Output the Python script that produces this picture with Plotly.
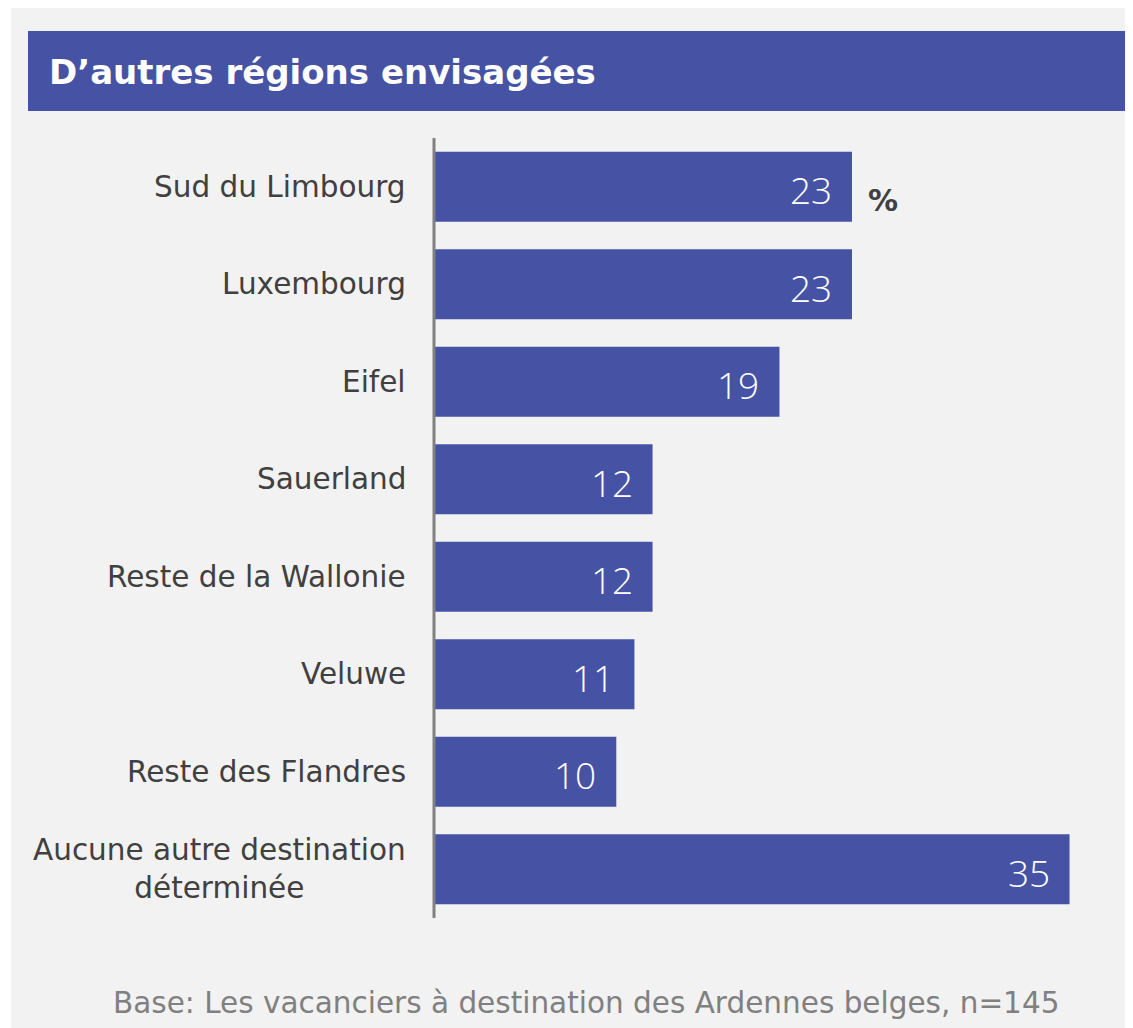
import plotly.graph_objects as go

categories = ["Sud du Limbourg", "Luxembourg", "Eifel", "Sauerland",
              "Reste de la Wallonie", "Veluwe", "Reste des Flandres",
              "Aucune autre destination<br>déterminée"]
values = [23, 23, 19, 12, 12, 11, 10, 35]
title_text = "D’autres régions envisagées"
unit_text = "%"
base_text = "Base: Les vacanciers à destination des Ardennes belges, n=145"

O = 8  # page body margin
W, H = 1125, 1020
L, R, T, B = 435 - O, 1110 - O, 138 - O, 918 - O
BAR = "#4653a5"
BG = "#f2f2f2"


def px(x):
    """page x pixel -> paper coordinate"""
    return (x - O - L) / (R - L)


def py(y):
    """page y pixel -> paper coordinate"""
    return (B - (y - O)) / (B - T)


fig = go.Figure()
fig.add_trace(go.Bar(
    x=values, y=categories, orientation="h",
    marker=dict(color=BAR, line=dict(width=0)),
    hoverinfo="skip",
))

ann = []
for c, v in zip(categories, values):
    ann.append(dict(x=v, y=c, xref="x", yref="y", text=str(v), showarrow=False,
                    xanchor="right", yanchor="middle", xshift=-18, yshift=-3,
                    font=dict(family="Open Sans", size=37, color="white", weight=300)))
    ann.append(dict(x=0, y=c, xref="paper", yref="y", text=c, showarrow=False,
                    xanchor="right", yanchor="middle", xshift=-27, align="center",
                    font=dict(family="DejaVu Sans", size=29.5, color="#404040")))

ann.append(dict(x=values[0], y=categories[0], xref="x", yref="y", text=unit_text,
                showarrow=False, xanchor="left", yanchor="middle", xshift=14, yshift=-14,
                font=dict(family="DejaVu Sans", size=30, color="#404040", weight="bold")))
ann.append(dict(x=px(47), y=py(72), xref="paper", yref="paper", text=title_text,
                showarrow=False, xanchor="left", yanchor="middle",
                font=dict(family="DejaVu Sans", size=34, color="white", weight="bold")))
ann.append(dict(x=px(1061), y=py(1003), xref="paper", yref="paper", text=base_text,
                showarrow=False, xanchor="right", yanchor="middle",
                font=dict(family="DejaVu Sans", size=29.5, color="#808080")))

shapes = [
    dict(type="rect", xref="paper", yref="paper", x0=px(0), x1=px(11), y0=py(0), y1=py(1040),
         fillcolor="white", line=dict(width=0), layer="below"),
    dict(type="rect", xref="paper", yref="paper", x0=px(28), x1=px(1127), y0=py(31), y1=py(111),
         fillcolor=BAR, line=dict(width=0), layer="below"),
    dict(type="line", xref="paper", yref="paper", x0=px(434), x1=px(434), y0=0, y1=1,
         line=dict(color="#808080", width=3), layer="above"),
]

fig.update_layout(
    width=W, height=H,
    margin=dict(l=L, r=W - R, t=T, b=H - B, pad=0),
    paper_bgcolor=BG, plot_bgcolor=BG,
    showlegend=False,
    bargap=0.28,
    xaxis=dict(range=[0, (R - L) / 18.13], visible=False, fixedrange=True),
    yaxis=dict(categoryorder="array", categoryarray=categories, autorange="reversed",
               showticklabels=False, showgrid=False, zeroline=False, showline=False,
               ticks="", fixedrange=True),
    annotations=ann,
    shapes=shapes,
)

fig.write_html("out.html")
